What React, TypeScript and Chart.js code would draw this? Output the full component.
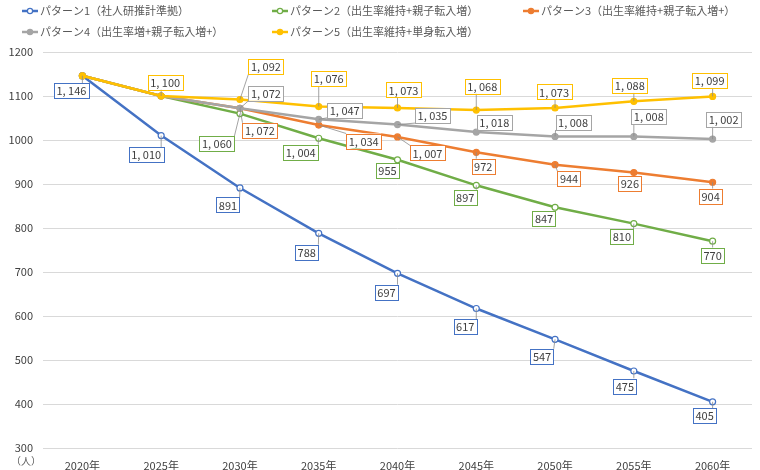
import React, { useEffect, useRef } from "react";
import { Chart, registerables } from "chart.js";
Chart.register(...registerables);

const years = ["2020年", "2025年", "2030年", "2035年", "2040年", "2045年", "2050年", "2055年", "2060年"];
const pattern1 = [1146, 1010, 891, 788, 697, 617, 547, 475, 405];
const pattern2 = [1146, 1100, 1060, 1004, 955, 897, 847, 810, 770];
const pattern3 = [1146, 1100, 1072, 1034, 1007, 972, 944, 926, 904];
const pattern4 = [1146, 1100, 1072, 1047, 1035, 1018, 1008, 1008, 1002];
const pattern5 = [1146, 1100, 1092, 1076, 1073, 1068, 1073, 1088, 1099];
const seriesNames = [
  "パターン1（社人研推計準拠）",
  "パターン2（出生率維持+親子転入増）",
  "パターン3（出生率維持+親子転入増+）",
  "パターン4（出生率増+親子転入増+）",
  "パターン5（出生率維持+単身転入増）",
];
const yMin = 300;
const yMax = 1200;
const yStep = 100;
const unitLabel = "（人）";

const colors = ["#4472C4", "#70AD47", "#ED7D31", "#A5A5A5", "#FFC000"];
const hollow = [true, true, false, false, false];
// label centre offsets (px) from each point; null = no label
const labelOffsets: (number[] | null)[][] = [
  [[-11, 15], [-15, 19], [-12, 17], [-12, 19], [-11, 19], [-11, 18], [-13, 17], [-9, 15], [-8, 14]],
  [null, null, [-23, 30], [-18, 14], [-10, 11], [-11, 12], [-11, 11], [-12, 13], [0, 14]],
  [null, null, [20, 22], [45, 16], [30, 16], [7, 14], [14, 14], [-4, 11], [-2, 14]],
  [null, null, [26, -15], [26, -9], [35, -9], [18, -10], [18, -14], [15, -20], [11, -20]],
  [null, [4, -14], [26, -33], [10, -28], [6, -18], [6, -24], [-1, -16], [-4, -16], [-3, -16]],
];
const legendPos = [
  [22, 11],
  [272, 11],
  [523, 11],
  [22, 32],
  [272, 32],
];

const FONT = '"Noto Sans CJK JP", "Noto Sans", sans-serif';

function fmt(v: number) {
  if (v >= 1000) return `${Math.floor(v / 1000)}, ${String(v % 1000).padStart(3, "0")}`;
  return String(v);
}

const overlayPlugin = {
  id: "overlay",
  afterDatasetsDraw(chart: any) {
    const ctx = chart.ctx as CanvasRenderingContext2D;
    ctx.save();
    ctx.font = `11px ${FONT}`;
    ctx.textAlign = "center";
    ctx.textBaseline = "middle";
    chart.data.datasets.forEach((ds: any, di: number) => {
      const meta = chart.getDatasetMeta(di);
      meta.data.forEach((pt: any, i: number) => {
        const off = labelOffsets[di][i];
        if (!off) return;
        const text = fmt(ds.data[i]);
        const w = ctx.measureText(text).width + 5;
        const h = 15;
        const cx = pt.x + off[0];
        const cy = pt.y + off[1];
        const l = cx - w / 2, r = cx + w / 2, t = cy - h / 2, b = cy + h / 2;
        const nx = Math.max(l, Math.min(pt.x, r));
        const ny = Math.max(t, Math.min(pt.y, b));
        const d = Math.hypot(nx - pt.x, ny - pt.y);
        if (d > 4) {
          ctx.strokeStyle = "#8c8c8c";
          ctx.lineWidth = 0.8;
          ctx.beginPath();
          ctx.moveTo(pt.x, pt.y);
          ctx.lineTo(nx, ny);
          ctx.stroke();
        }
        ctx.fillStyle = "#ffffff";
        ctx.fillRect(l, t, w, h);
        ctx.strokeStyle = colors[di];
        ctx.lineWidth = 1;
        ctx.strokeRect(Math.round(l) + 0.5, Math.round(t) + 0.5, Math.round(w), h);
        ctx.fillStyle = "#404040";
        ctx.fillText(text, cx, cy + 0.5);
      });
    });
    ctx.restore();
  },
  afterDraw(chart: any) {
    const ctx = chart.ctx as CanvasRenderingContext2D;
    ctx.save();
    // legend
    ctx.font = `11px ${FONT}`;
    ctx.textBaseline = "middle";
    ctx.textAlign = "left";
    seriesNames.forEach((name, i) => {
      const [x, y] = legendPos[i];
      ctx.strokeStyle = colors[i];
      ctx.lineWidth = 2.5;
      ctx.beginPath();
      ctx.moveTo(x, y);
      ctx.lineTo(x + 16, y);
      ctx.stroke();
      ctx.beginPath();
      ctx.arc(x + 8, y, 2.6, 0, Math.PI * 2);
      ctx.fillStyle = hollow[i] ? "#ffffff" : colors[i];
      ctx.fill();
      ctx.lineWidth = 1.2;
      ctx.stroke();
      ctx.fillStyle = "#595959";
      ctx.fillText(name, x + 18, y);
    });
    // unit label
    const area = chart.chartArea;
    ctx.font = `10px ${FONT}`;
    ctx.textAlign = "center";
    ctx.fillStyle = "#595959";
    ctx.fillText(unitLabel, 26, area.bottom + 13);
    ctx.restore();
  },
};

export default function App() {
  const ref = useRef<HTMLCanvasElement>(null);
  useEffect(() => {
    document.body.style.margin = "0";
    const series = [pattern1, pattern2, pattern3, pattern4, pattern5];
    const chart = new Chart(ref.current!, {
      type: "line",
      data: {
        labels: years,
        datasets: series.map((d, i) => ({
          label: seriesNames[i],
          data: d,
          borderColor: colors[i],
          backgroundColor: colors[i],
          borderWidth: 2.5,
          tension: 0,
          pointRadius: 3,
          pointBorderWidth: 1.2,
          pointBorderColor: colors[i],
          pointBackgroundColor: hollow[i] ? "#ffffff" : colors[i],
          order: 5 - i,
        })),
      },
      options: {
        animation: false,
        responsive: false,
        layout: { padding: { top: 52, right: 8, left: 0, bottom: 0 } },
        plugins: { legend: { display: false }, tooltip: { enabled: false } },
        scales: {
          x: {
            offset: true,
            grid: { display: false },
            border: { display: false },
            ticks: { color: "#404040", font: { family: FONT, size: 11 }, padding: 3, maxRotation: 0 },
            afterFit: (s: any) => {
              s.height = 22;
            },
          },
          y: {
            min: yMin,
            max: yMax,
            grid: { color: "#d9d9d9", lineWidth: 1, drawTicks: false },
            border: { display: false },
            ticks: {
              stepSize: yStep,
              color: "#404040",
              font: { family: FONT, size: 11 },
              padding: 10,
              callback: (v: any) => String(v),
            },
            afterFit: (s: any) => {
              s.width = 43;
            },
          },
        },
      },
      plugins: [overlayPlugin],
    });
    return () => chart.destroy();
  }, []);
  return <canvas ref={ref} width={760} height={470} style={{ display: "block", width: 760, height: 470 }} />;
}
